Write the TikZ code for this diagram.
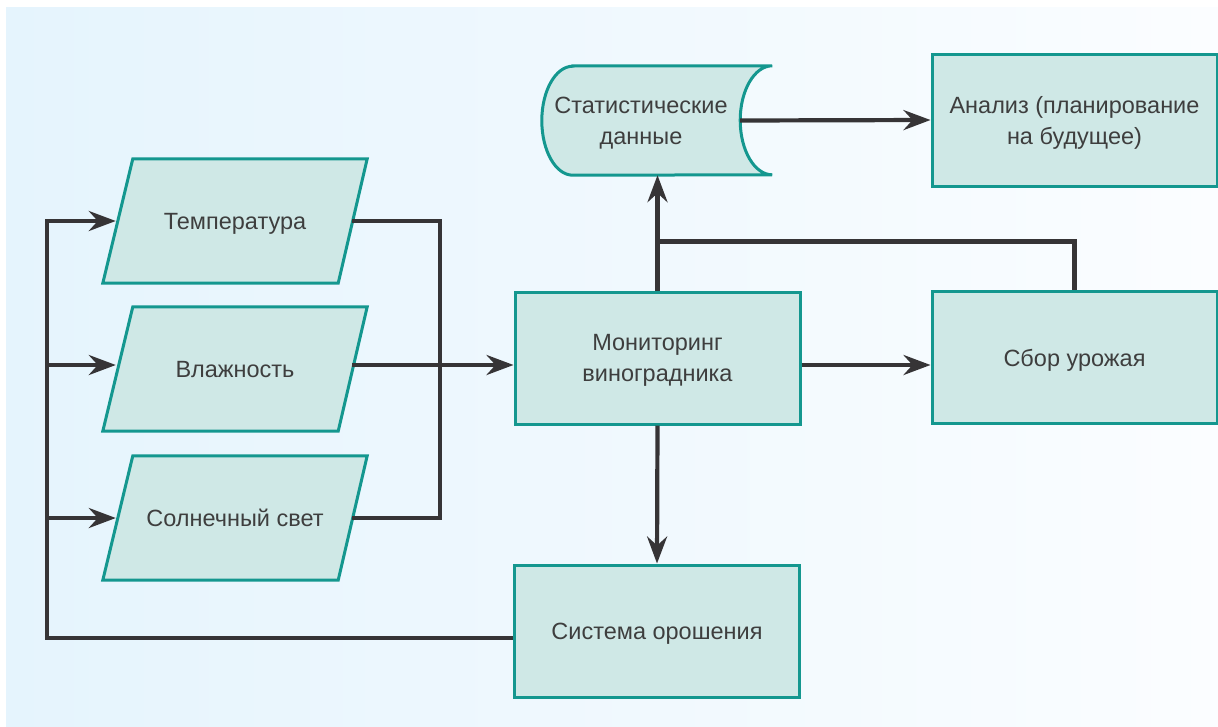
\documentclass[tikz,border=0pt]{standalone}
\usepackage{fontspec}
\setmainfont{Liberation Sans}
\usetikzlibrary{arrows.meta, calc}

\definecolor{boxfill}{HTML}{CFE8E6}
\definecolor{boxline}{HTML}{14978F}
\definecolor{wirecol}{HTML}{363436}
\definecolor{txt}{HTML}{3E3E3E}
\definecolor{bgleft}{HTML}{E5F4FD}
\definecolor{bgright}{HTML}{FBFDFF}

\pgfdeclarelayer{back}
\pgfdeclarelayer{shapes}
\pgfsetlayers{back,shapes,main}

\begin{document}
\begin{tikzpicture}[x=1pt, y=-1pt,
    every node/.style={font=\fontsize{23.5}{31}\selectfont, text=txt, align=center, text depth=0pt},
    outline/.style={draw=boxline, fill=boxfill, line width=3pt},
    block/.style={outline, minimum width=285pt, minimum height=132pt, inner sep=0pt},
    slanted/.style={minimum width=264pt, minimum height=124pt, inner sep=0pt},
    wire/.style={draw=wirecol, line width=4.2pt},
    flow/.style={wire, -{Stealth[length=27pt, width=20pt, inset=9pt]}}]

    \useasboundingbox (0,0) rectangle (1218,726);
    \begin{pgfonlayer}{back}
        \fill[left color=bgleft, right color=bgright] (6,7) rectangle (1218,726);
    \end{pgfonlayer}

%____________________________________________________________________________________________________
    % sensor inputs
    \node[slanted] (temp) at (235,221) {Температура};
    \node[slanted] (hum) at (235,369) {Влажность};
    \node[slanted] (sun) at (235,518) {Солнечный свет};
    \begin{pgfonlayer}{shapes}
        \foreach \n in {temp, hum, sun}
            \draw[outline] ([xshift=30pt]\n.north west) -- (\n.north east)
                -- ([xshift=-29pt]\n.south east) -- (\n.south west) -- cycle;
    \end{pgfonlayer}

%____________________________________________________________________________________________________
    % process blocks
    \node[block] (mon) at (657.5,358) {Мониторинг\\виноградника};
    \node[block] (irr) at (657,631) {Система орошения};
    \node[block] (crop) at (1074.5,357.5) {Сбор урожая};
    \node[block] (ana) at (1074.5,120) {Анализ (планирование\\на будущее)};

    \node[minimum width=198pt, minimum height=109pt, inner sep=0pt] (stat) at (641,120.5) {Статистические\\данные};
    \begin{pgfonlayer}{shapes}
        \draw[outline]
            ([xshift=31pt]stat.north west) -- ([xshift=32pt]stat.north east)
            arc[start angle=90, end angle=270, x radius=32pt, y radius=54.5pt]
            -- ([xshift=31pt]stat.south west)
            arc[start angle=270, end angle=90, x radius=31pt, y radius=54.5pt] -- cycle;
    \end{pgfonlayer}

%____________________________________________________________________________________________________
    % connectors
    \coordinate (bus) at (440,365);
    \coordinate (fb) at (47,221);
    \coordinate (split) at ($(mon.north)+(0,-49)$);

    \draw[wire] ([xshift=-15pt]temp.east) -| (bus) |- ([xshift=-15pt]sun.east);
    \draw[flow] ([xshift=-15pt]hum.east |- bus) -- (mon.west |- bus);
    \draw[flow] (mon.east |- bus) -- (crop.west |- bus);

    \draw[flow] ([yshift=-7pt]irr.west) -| (fb) -- ([xshift=13pt]temp.west);
    \draw[flow] (fb |- bus) -- ([xshift=13pt]hum.west |- bus);
    \draw[flow] (fb |- sun.west) -- ([xshift=13pt]sun.west);

    \draw[flow] (mon.north) -- (stat.south -| mon.north);
    \draw[wire] (split) -| (crop.north);
    \draw[flow] (stat.east) -- (ana.west);
    \draw[flow] (mon.south) -- (irr.north);
\end{tikzpicture}
\end{document}
